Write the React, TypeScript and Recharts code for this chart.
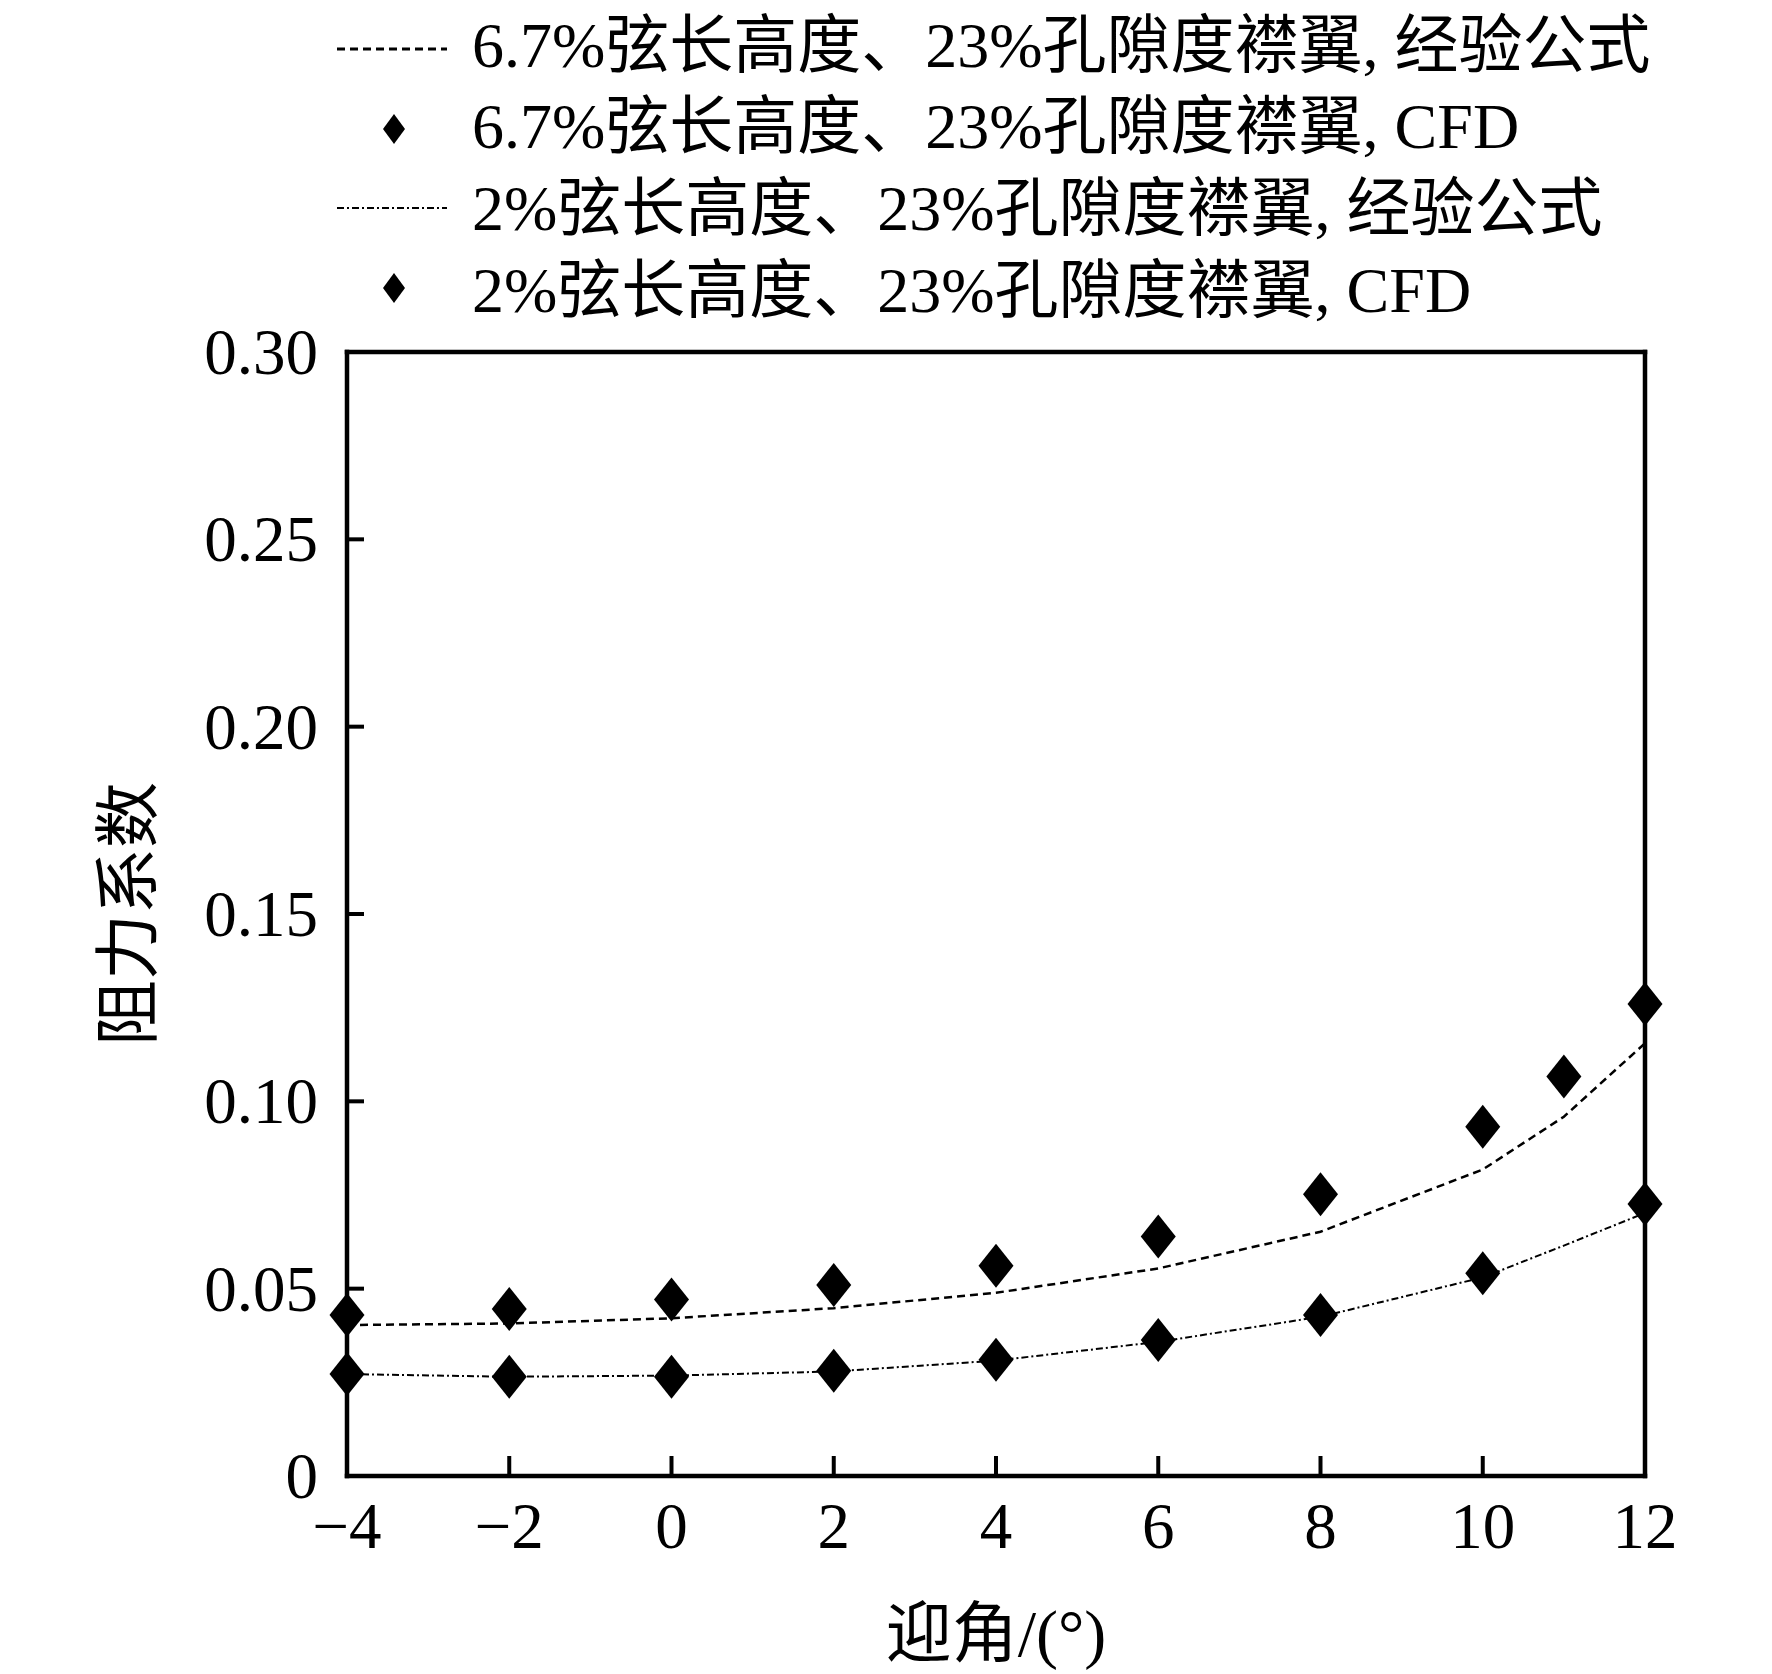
import React from 'react';
import { ComposedChart, Line, Scatter, XAxis, YAxis, Legend } from 'recharts';

// ---------- data ----------
const lineAngles = [-4, -2, 0, 2, 4, 6, 8, 10, 11, 12];
const empirical67 = [0.0403, 0.0407, 0.0421, 0.0448, 0.0489, 0.0554, 0.0652, 0.0818, 0.0959, 0.1155];
const empirical2 = [0.0272, 0.0265, 0.0268, 0.0279, 0.0308, 0.0358, 0.0425, 0.053, 0.0615, 0.0702];

const cfdAngles67 = [-4, -2, 0, 2, 4, 6, 8, 10, 11, 12];
const cfd67 = [0.043, 0.0446, 0.0471, 0.051, 0.0561, 0.0639, 0.0752, 0.0932, 0.1066, 0.126];
const cfdAngles2 = [-4, -2, 0, 2, 4, 6, 8, 10, 12];
const cfd2 = [0.0272, 0.0265, 0.0265, 0.0281, 0.031, 0.0363, 0.043, 0.0541, 0.0726];

const xTicks = [-4, -2, 0, 2, 4, 6, 8, 10, 12];
const xTickLabels = ['−4', '−2', '0', '2', '4', '6', '8', '10', '12'];
const yTicks = [0, 0.05, 0.1, 0.15, 0.2, 0.25, 0.3];
const yTickLabels = ['0', '0.05', '0.10', '0.15', '0.20', '0.25', '0.30'];

const legendNames = [
  '6.7%弦长高度、23%孔隙度襟翼, 经验公式',
  '6.7%弦长高度、23%孔隙度襟翼, CFD',
  '2%弦长高度、23%孔隙度襟翼, 经验公式',
  '2%弦长高度、23%孔隙度襟翼, CFD',
];
const xTitle = '迎角/(°)';
const yTitle = '阻力系数';

const toPoints = (xs: number[], ys: number[]) => xs.map((x, i) => ({ x, y: ys[i] }));

// ---------- styles ----------
const W = 1756;
const H = 1666;
const FONT = "'Liberation Serif', 'Times New Roman', 'Noto Sans CJK SC', serif";
const AXIS = { stroke: '#000', strokeWidth: 4.5, strokeLinecap: 'square' as const };
const DASH67 = '8 5';
const DASH2 = '7 3 2 3';

const XTick = (props: any) => {
  const { x, y, index } = props;
  return (
    <g>
      <line x1={x} x2={x} y1={y} y2={y - 20} stroke="#000" strokeWidth={4} />
      <text x={x} y={y + 72} textAnchor="middle" fontFamily={FONT} fontSize={65} fill="#000">
        {xTickLabels[index]}
      </text>
    </g>
  );
};

const YTick = (props: any) => {
  const { x, y, index } = props;
  return (
    <g>
      <line x1={x} x2={x + 17} y1={y} y2={y} stroke="#000" strokeWidth={4} />
      <text x={x - 29} y={y + 22} textAnchor="end" fontFamily={FONT} fontSize={65} fill="#000">
        {yTickLabels[index]}
      </text>
    </g>
  );
};

const XTitle = (props: any) => {
  const vb = props.viewBox || {};
  const cx = vb.x + vb.width / 2;
  return (
    <text x={cx} y={vb.y + 180} textAnchor="middle" fontFamily={FONT} fontSize={66} fill="#000">
      {xTitle}
    </text>
  );
};

const YTitle = (props: any) => {
  const vb = props.viewBox || {};
  const tx = vb.x - 195;
  const ty = vb.y + vb.height / 2;
  return (
    <text
      x={tx}
      y={ty}
      textAnchor="middle"
      transform={`rotate(-90, ${tx}, ${ty})`}
      fontFamily={FONT}
      fontSize={66}
      fill="#000"
    >
      {yTitle}
    </text>
  );
};

const Diamond = (props: any) => {
  const { cx, cy } = props;
  const hw = 17.5;
  const hh = 22;
  return <polygon points={`${cx},${cy - hh} ${cx + hw},${cy} ${cx},${cy + hh} ${cx - hw},${cy}`} fill="#000" />;
};

const renderLegend = () => {
  const rows = [
    { kind: 'line', dash: DASH67, width: 3, lineY: 41, base: 59 },
    { kind: 'dot', lineY: 121, base: 140 },
    { kind: 'line', dash: DASH2, width: 2, lineY: 200, base: 222 },
    { kind: 'dot', lineY: 280, base: 304 },
  ];
  return (
    <svg width={W} height={330} style={{ display: 'block' }}>
      {rows.map((r, i) => (
        <g key={i}>
          {r.kind === 'line' ? (
            <line x1={329} x2={439} y1={r.lineY} y2={r.lineY} stroke="#000" strokeWidth={r.width} strokeDasharray={r.dash} />
          ) : (
            <polygon
              points={`386,${r.lineY - 15} 397,${r.lineY} 386,${r.lineY + 15} 375,${r.lineY}`}
              fill="#000"
            />
          )}
          <text x={464} y={r.base} fontFamily={FONT} fontSize={64} fill="#000">
            {legendNames[i]}
          </text>
        </g>
      ))}
    </svg>
  );
};

export default function App() {
  return (
    <div style={{ width: W, height: H, background: '#fff' }}>
      <ComposedChart width={W} height={H} margin={{ top: 343, left: 338, right: 118, bottom: 197 }}>
        <XAxis
          xAxisId="b"
          dataKey="x"
          type="number"
          domain={[-4, 12]}
          ticks={xTicks}
          interval={0}
          tickSize={0}
          tickMargin={0}
          tickLine={false}
          axisLine={AXIS}
          tick={<XTick />}
          height={1}
          label={<XTitle />}
        />
        <XAxis xAxisId="t" orientation="top" type="number" domain={[-4, 12]} tick={false} tickLine={false} axisLine={AXIS} height={1} />
        <YAxis
          yAxisId="l"
          type="number"
          domain={[0, 0.3]}
          ticks={yTicks}
          interval={0}
          tickSize={0}
          tickMargin={0}
          tickLine={false}
          axisLine={AXIS}
          tick={<YTick />}
          width={1}
          label={<YTitle />}
        />
        <YAxis yAxisId="r" orientation="right" type="number" domain={[0, 0.3]} tick={false} tickLine={false} axisLine={AXIS} width={1} />
        <Legend
          content={renderLegend}
          layout="vertical"
          align="center"
          verticalAlign="middle"
          wrapperStyle={{ top: 0, left: 0, width: W, height: 330 }}
        />
        <Line
          xAxisId="b"
          yAxisId="l"
          data={toPoints(lineAngles, empirical67)}
          dataKey="y"
          name={legendNames[0]}
          type="linear"
          stroke="#000"
          strokeWidth={2.5}
          strokeDasharray={DASH67}
          dot={false}
          activeDot={false}
          isAnimationActive={false}
        />
        <Line
          xAxisId="b"
          yAxisId="l"
          data={toPoints(lineAngles, empirical2)}
          dataKey="y"
          name={legendNames[2]}
          type="linear"
          stroke="#000"
          strokeWidth={2}
          strokeDasharray={DASH2}
          dot={false}
          activeDot={false}
          isAnimationActive={false}
        />
        <Scatter
          xAxisId="b"
          yAxisId="l"
          data={toPoints(cfdAngles67, cfd67)}
          dataKey="y"
          name={legendNames[1]}
          fill="#000"
          shape={<Diamond />}
          isAnimationActive={false}
        />
        <Scatter
          xAxisId="b"
          yAxisId="l"
          data={toPoints(cfdAngles2, cfd2)}
          dataKey="y"
          name={legendNames[3]}
          fill="#000"
          shape={<Diamond />}
          isAnimationActive={false}
        />
      </ComposedChart>
    </div>
  );
}
